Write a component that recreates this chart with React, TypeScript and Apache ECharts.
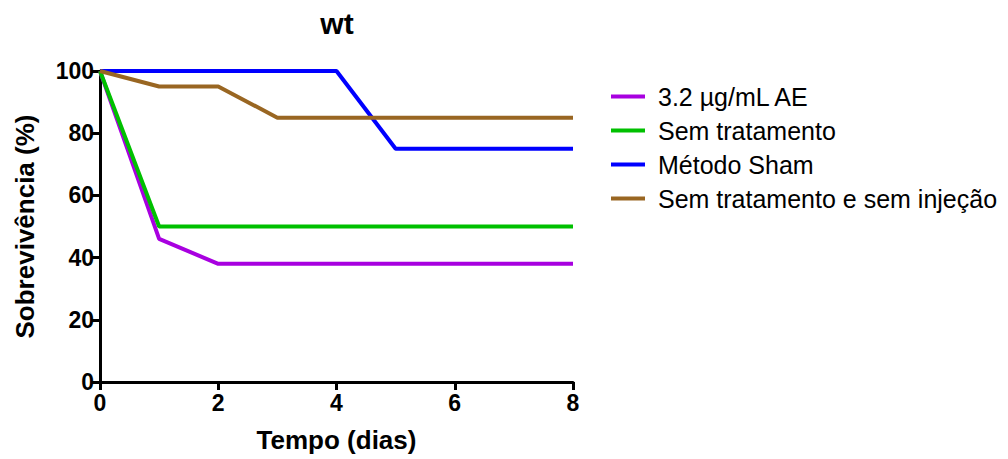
import React, { useEffect, useRef } from "react";
import * as echarts from "echarts";

const days = [0, 1, 2, 3, 4, 5, 6, 7, 8];
const seriesNames = ["3.2 µg/mL AE", "Sem tratamento", "Método Sham", "Sem tratamento e sem injeção"];
const aeValues = [100, 46, 38, 38, 38, 38, 38, 38, 38];
const semTratValues = [100, 50, 50, 50, 50, 50, 50, 50, 50];
const shamValues = [100, 100, 100, 100, 100, 75, 75, 75, 75];
const semInjValues = [100, 95, 95, 85, 85, 85, 85, 85, 85];
const colors = ["#a800e0", "#00c000", "#0000ff", "#996622"];
const xTicks = [0, 2, 4, 6, 8];
const yTicks = [0, 20, 40, 60, 80, 100];

export default function App() {
  const ref = useRef<HTMLDivElement>(null);
  useEffect(() => {
    if (!ref.current) return;
    const chart = echarts.init(ref.current, null, { renderer: "svg" });
    const valuesList = [aeValues, semTratValues, shamValues, semInjValues];
    const font = "Liberation Sans, Arial, Helvetica, sans-serif";
    chart.setOption({
      animation: false,
      textStyle: { fontFamily: font },
      title: {
        text: "wt",
        left: 332,
        top: 3,
        textAlign: "center",
        textStyle: { fontSize: 30, fontWeight: "bold", color: "#000", fontFamily: font },
      },
      legend: {
        orient: "vertical",
        left: 606,
        top: 79,
        itemWidth: 34,
        itemHeight: 4,
        itemGap: 9,
        icon: "rect",
        textStyle: { fontSize: 25, color: "#000", fontFamily: font, padding: [0, 0, 0, 8] },
        data: seriesNames,
      },
      grid: { left: 100, right: 435, top: 71, bottom: 77, outerBoundsMode: "none", containLabel: false },
      xAxis: {
        type: "value",
        min: 0,
        max: 8,
        interval: 2,
        name: "Tempo (dias)",
        nameLocation: "middle",
        nameGap: 45,
        nameTextStyle: { fontSize: 26, fontWeight: "bold", color: "#000", fontFamily: font },
        axisLine: { lineStyle: { color: "#000", width: 3 } },
        axisTick: { show: true, length: 8, lineStyle: { color: "#000", width: 3 } },
        axisLabel: {
          fontSize: 23,
          fontWeight: "bold",
          color: "#000",
          margin: 9,
          formatter: (v: number) => (xTicks.includes(v) ? String(v) : ""),
        },
        splitLine: { show: false },
      },
      yAxis: {
        type: "value",
        min: 0,
        max: 100,
        interval: 20,
        name: "Sobrevivência (%)",
        nameLocation: "middle",
        nameGap: 62,
        nameRotate: 90,
        nameTextStyle: { fontSize: 26, fontWeight: "bold", color: "#000", fontFamily: font },
        axisLine: { show: true, lineStyle: { color: "#000", width: 3 } },
        axisTick: { show: true, length: 8, lineStyle: { color: "#000", width: 3 } },
        axisLabel: {
          fontSize: 23,
          fontWeight: "bold",
          color: "#000",
          margin: 6,
          formatter: (v: number) => (yTicks.includes(v) ? String(v) : ""),
        },
        splitLine: { show: false },
      },
      series: seriesNames.map((name, i) => ({
        name,
        type: "line",
        symbol: "none",
        color: colors[i],
        lineStyle: { width: 4, color: colors[i] },
        data: days.map((d, j) => [d, valuesList[i][j]]),
        z: 2 + i,
      })),
    });
    return () => chart.dispose();
  }, []);
  return <div ref={ref} style={{ width: 1008, height: 459, position: "absolute", left: 0, top: 0 }} />;
}
